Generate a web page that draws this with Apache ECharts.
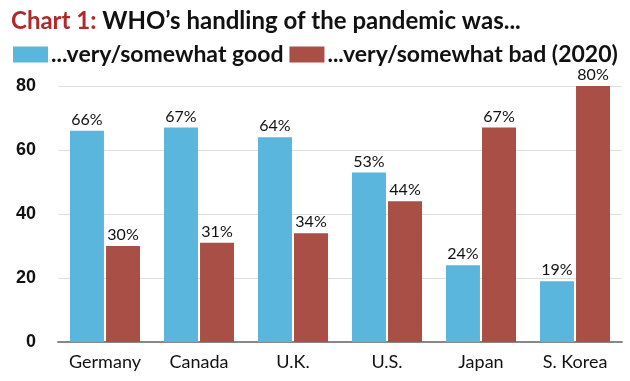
<!DOCTYPE html>
<html>
<head>
<meta charset="utf-8">
<script src="https://cdn.jsdelivr.net/npm/echarts@6/dist/echarts.min.js"></script>
<style>
  html, body { margin: 0; padding: 0; background: #fff; }
  #chart { width: 630px; height: 381px; }
</style>
</head>
<body>
<div id="chart"></div>
<script>
  const categories = ['Germany', 'Canada', 'U.K.', 'U.S.', 'Japan', 'S. Korea'];
  const goodValues = [66, 67, 64, 53, 24, 19];
  const badValues = [30, 31, 34, 44, 67, 80];
  const yTicks = [0, 20, 40, 60, 80];
  const seriesNames = ['...very/somewhat good', '...very/somewhat bad (2020)'];

  const blue = '#5bb6dd';
  const red = '#a94f46';
  const labelFont = 'Lato, "Open Sans", sans-serif';

  const chart = echarts.init(document.getElementById('chart'));

  chart.setOption({
    animation: false,
    title: {
      text: '{r|Chart 1:} WHO\u2019s handling of the pandemic was...',
      left: 6,
      top: 4,
      textStyle: {
        color: '#111',
        fontFamily: labelFont,
        fontWeight: 'bold',
        fontSize: 24,
        rich: {
          r: { color: '#b02a2a', fontFamily: labelFont, fontWeight: 'bold', fontSize: 24 }
        }
      }
    },
    legend: {
      left: 8,
      top: 38,
      itemWidth: 35,
      itemHeight: 16,
      itemGap: 6,
      icon: 'rect',
      textStyle: { color: '#111', fontFamily: labelFont, fontWeight: 'bold', fontSize: 23, padding: [0, 0, 0, -2] }
    },
    grid: { left: 58, right: 8, top: 86, bottom: 39 },
    xAxis: {
      type: 'category',
      data: categories,
      axisLine: { lineStyle: { color: '#888', width: 2 } },
      axisTick: { show: false },
      axisLabel: { color: '#111', fontFamily: labelFont, fontSize: 18, margin: 11 }
    },
    yAxis: {
      type: 'value',
      min: yTicks[0],
      max: yTicks[yTicks.length - 1],
      interval: 20,
      axisLine: { show: false },
      axisTick: { show: false },
      splitLine: { lineStyle: { color: '#ddd' } },
      axisLabel: { color: '#111', fontFamily: 'Liberation Sans, Arial, sans-serif', fontWeight: 'bold', fontSize: 18, margin: 22 }
    },
    series: [
      {
        name: seriesNames[0],
        type: 'bar',
        data: goodValues,
        barWidth: 34,
        barGap: '6%',
        itemStyle: { color: blue },
        label: { show: true, position: 'top', distance: 3, formatter: '{c}%', color: '#111', fontFamily: labelFont, fontSize: 16 }
      },
      {
        name: seriesNames[1],
        type: 'bar',
        data: badValues,
        barWidth: 34,
        itemStyle: { color: red },
        label: { show: true, position: 'top', distance: 3, formatter: '{c}%', color: '#111', fontFamily: labelFont, fontSize: 16 }
      }
    ]
  });

  window.addEventListener('resize', () => chart.resize());
</script>
</body>
</html>
